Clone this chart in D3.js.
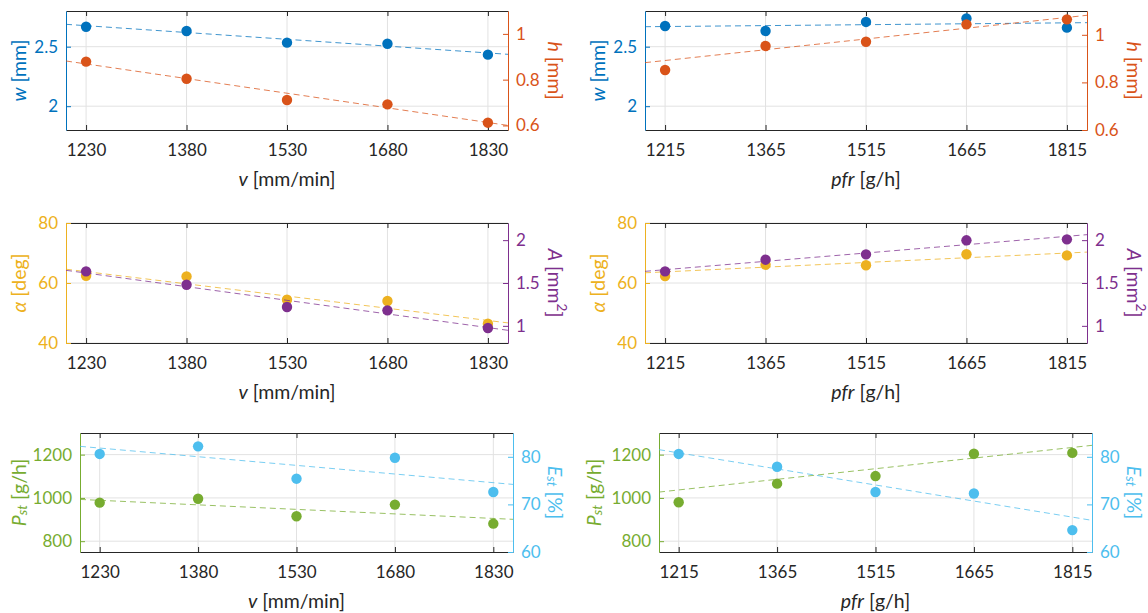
<!DOCTYPE html>
<html><head><meta charset="utf-8">
<script src="https://cdn.jsdelivr.net/npm/d3@7"></script>
<style>body{margin:0;background:#fff}svg{display:block}text{font-family:Lato,"Open Sans",sans-serif}</style>
</head><body><svg id="c" width="1148" height="613"></svg>
<script>
// ---- tick values ----
const vTicks = [1230, 1380, 1530, 1680, 1830];
const pfrTicks = [1215, 1365, 1515, 1665, 1815];
const wTicks = [2, 2.5];
const hTicks = [0.6, 0.8, 1];
const alphaTicks = [40, 60, 80];
const ATicks = [1, 1.5, 2];
const PTicks = [800, 1000, 1200];
const ETicks = [60, 70, 80];

// ---- series values (one per x tick) ----
const w_v = [2.668, 2.632, 2.534, 2.525, 2.433];
const h_v = [0.879, 0.804, 0.711, 0.692, 0.612];
const w_pfr = [2.674, 2.632, 2.708, 2.738, 2.660];
const h_pfr = [0.852, 0.953, 0.971, 1.044, 1.065];
const alpha_v = [62.4, 62.2, 54.4, 54.0, 46.4];
const A_v = [1.636, 1.480, 1.220, 1.181, 0.975];
const alpha_pfr = [62.3, 66.1, 65.9, 69.6, 69.2];
const A_pfr = [1.636, 1.772, 1.834, 1.998, 2.009];
const Pst_v = [978, 996, 915, 969, 881];
const Est_v = [80.6, 82.2, 75.4, 79.8, 72.6];
const Pst_pfr = [980, 1066, 1101, 1204, 1208];
const Est_pfr = [80.6, 77.9, 72.6, 72.3, 64.6];

// ---- linear trend values at the two x-axis limits ----
const wTrend_v = [2.688, 2.436];
const hTrend_v = [0.8815, 0.600];
const wTrend_pfr = [2.668, 2.702];
const hTrend_pfr = [0.883, 1.082];
const alphaTrend_v = [64.6, 46.7];
const ATrend_v = [1.648, 0.948];
const alphaTrend_pfr = [63.4, 70.3];
const ATrend_pfr = [1.636, 2.064];
const PstTrend_v = [993, 901];
const EstTrend_v = [82.2, 74.2];
const PstTrend_pfr = [1027, 1243];
const EstTrend_pfr = [81.5, 66.65];

// ---- labels ----
const xLabV = [{t:'v', i:1}, {t:' [mm/min]'}];
const xLabP = [{t:'pfr', i:1}, {t:' [g/h]'}];
const labW = [{t:'w', i:1}, {t:' [mm]'}];
const labH = [{t:'h', i:1}, {t:' [mm]'}];
const labAlpha = [{t:'α', i:1}, {t:' [deg]'}];
const labA = [{t:'A', i:1}, {t:' [mm'}, {t:'2', sup:1}, {t:']'}];
const labP = [{t:'P', i:1}, {t:'st', i:1, sub:1}, {t:' [g/h]'}];
const labE = [{t:'E', i:1}, {t:'st', i:1, sub:1}, {t:' [%]'}];

const C = {blue:'#0072BD', orange:'#D95319', yellow:'#EDB120', purple:'#7E2F8E', green:'#77AC30', cyan:'#4DBEEE'};

const vDom = [1200, 1860], pDom = [1185, 1845];
const panels = [
  {L:66, R:508, T:11, B:130, xd:vDom, xt:vTicks, xl:xLabV,
   left:{d:[1.8,2.8], t:wTicks, c:C.blue, s:w_v, tr:wTrend_v, lab:labW, off:48},
   right:{d:[0.58,1.1], t:hTicks, c:C.orange, s:h_v, tr:hTrend_v, lab:labH, off:48}},
  {L:645, R:1087, T:11, B:130, xd:pDom, xt:pfrTicks, xl:xLabP,
   left:{d:[1.8,2.8], t:wTicks, c:C.blue, s:w_pfr, tr:wTrend_pfr, lab:labW, off:48},
   right:{d:[0.6,1.1], t:hTicks, c:C.orange, s:h_pfr, tr:hTrend_pfr, lab:labH, off:48}},
  {L:66, R:508, T:223, B:343, xd:vDom, xt:vTicks, xl:xLabV,
   left:{d:[40,80], t:alphaTicks, c:C.yellow, s:alpha_v, tr:alphaTrend_v, lab:labAlpha, off:48},
   right:{d:[0.8,2.2], t:ATicks, c:C.purple, s:A_v, tr:ATrend_v, lab:labA, off:48}},
  {L:645, R:1087, T:223, B:343, xd:pDom, xt:pfrTicks, xl:xLabP,
   left:{d:[40,80], t:alphaTicks, c:C.yellow, s:alpha_pfr, tr:alphaTrend_pfr, lab:labAlpha, off:48},
   right:{d:[0.8,2.2], t:ATicks, c:C.purple, s:A_pfr, tr:ATrend_pfr, lab:labA, off:48}},
  {L:80, R:513, T:433, B:552, xd:vDom, xt:vTicks, xl:xLabV,
   left:{d:[750,1300], t:PTicks, c:C.green, s:Pst_v, tr:PstTrend_v, lab:labP, off:62},
   right:{d:[60,85], t:ETicks, c:C.cyan, s:Est_v, tr:EstTrend_v, lab:labE, off:43}},
  {L:659, R:1092, T:433, B:552, xd:pDom, xt:pfrTicks, xl:xLabP,
   left:{d:[750,1300], t:PTicks, c:C.green, s:Pst_pfr, tr:PstTrend_pfr, lab:labP, off:66},
   right:{d:[60,85], t:ETicks, c:C.cyan, s:Est_pfr, tr:EstTrend_pfr, lab:labE, off:43}}
];

const svg = d3.select('#c');
svg.append('rect').attr('width',1148).attr('height',613).attr('fill','#fff');
const TICK_FS = 17, LAB_FS = 19.5, GRID = '#e2e2e2', DARK = '#262626';

function richText(sel, segs, fs) {
  segs.forEach(s => {
    const ts = sel.append('tspan').text(s.t);
    if (s.i) ts.attr('font-style','italic');
    if (s.sub) ts.attr('font-size', fs*0.7).attr('baseline-shift','-25%');
    if (s.sup) ts.attr('font-size', fs*0.7).attr('baseline-shift','40%');
  });
}

panels.forEach(p => {
  const g = svg.append('g');
  const x = d3.scaleLinear().domain(p.xd).range([p.L, p.R]);
  const yl = d3.scaleLinear().domain(p.left.d).range([p.B, p.T]);
  const yr = d3.scaleLinear().domain(p.right.d).range([p.B, p.T]);

  // grid
  g.selectAll('.gx').data(p.xt).join('line')
    .attr('x1', d => x(d)).attr('x2', d => x(d)).attr('y1', p.T).attr('y2', p.B)
    .attr('stroke', GRID).attr('stroke-width', 1);
  g.selectAll('.gy').data(p.left.t).join('line')
    .attr('x1', p.L).attr('x2', p.R).attr('y1', d => yl(d)).attr('y2', d => yl(d))
    .attr('stroke', GRID).attr('stroke-width', 1);

  // bottom axis (ticks inward)
  const ax = g.append('g').attr('transform', `translate(0,${p.B})`)
    .call(d3.axisBottom(x).tickValues(p.xt).tickSize(-5).tickPadding(14).tickSizeOuter(0).tickFormat(d => String(d)));
  ax.select('.domain').attr('stroke', DARK);
  ax.selectAll('.tick line').attr('stroke', DARK);
  ax.selectAll('text').attr('font-size', TICK_FS).attr('fill', DARK).attr('font-family','Lato');
  // top border with ticks
  const at = g.append('g').attr('transform', `translate(0,${p.T})`)
    .call(d3.axisTop(x).tickValues(p.xt).tickSize(-5).tickSizeOuter(0).tickFormat(''));
  at.select('.domain').attr('stroke', DARK);
  at.selectAll('.tick line').attr('stroke', DARK);

  // left axis
  const al = g.append('g').attr('transform', `translate(${p.L},0)`)
    .call(d3.axisLeft(yl).tickValues(p.left.t).tickSize(-5).tickPadding(8).tickSizeOuter(0).tickFormat(d => String(d)));
  al.select('.domain').attr('stroke', p.left.c);
  al.selectAll('.tick line').attr('stroke', p.left.c);
  al.selectAll('text').attr('font-size', TICK_FS).attr('fill', p.left.c).attr('font-family','Lato');

  // right axis
  const ar = g.append('g').attr('transform', `translate(${p.R},0)`)
    .call(d3.axisRight(yr).tickValues(p.right.t).tickSize(-5).tickPadding(8).tickSizeOuter(0).tickFormat(d => String(d)));
  ar.select('.domain').attr('stroke', p.right.c);
  ar.selectAll('.tick line').attr('stroke', p.right.c);
  ar.selectAll('text').attr('font-size', TICK_FS).attr('fill', p.right.c).attr('font-family','Lato');

  // x label
  const xt = g.append('text').attr('x', (p.L + p.R) / 2).attr('y', p.B + 48)
    .attr('text-anchor', 'middle').attr('dominant-baseline', 'central')
    .attr('font-size', LAB_FS).attr('fill', DARK);
  richText(xt, p.xl, LAB_FS);

  // y labels
  const cy = (p.T + p.B) / 2;
  const lt = g.append('text').attr('transform', `translate(${p.L - p.left.off},${cy}) rotate(-90)`)
    .attr('text-anchor', 'middle').attr('dominant-baseline', 'central')
    .attr('font-size', LAB_FS).attr('fill', p.left.c);
  richText(lt, p.left.lab, LAB_FS);
  const rt = g.append('text').attr('transform', `translate(${p.R + p.right.off},${cy}) rotate(90)`)
    .attr('text-anchor', 'middle').attr('dominant-baseline', 'central')
    .attr('font-size', LAB_FS).attr('fill', p.right.c);
  richText(rt, p.right.lab, LAB_FS);

  // series: left then right
  [[p.left, yl], [p.right, yr]].forEach(([ser, y]) => {
    g.append('line')
      .attr('x1', x(p.xd[0])).attr('x2', x(p.xd[1]))
      .attr('y1', y(ser.tr[0])).attr('y2', y(ser.tr[1]))
      .attr('stroke', ser.c).attr('stroke-opacity', 0.75).attr('stroke-width', 1)
      .attr('stroke-dasharray', '6,4');
    g.selectAll(null).data(ser.s).join('circle')
      .attr('cx', (d, i) => x(p.xt[i])).attr('cy', d => y(d)).attr('r', 5.2)
      .attr('fill', ser.c);
  });
});
</script></body></html>
